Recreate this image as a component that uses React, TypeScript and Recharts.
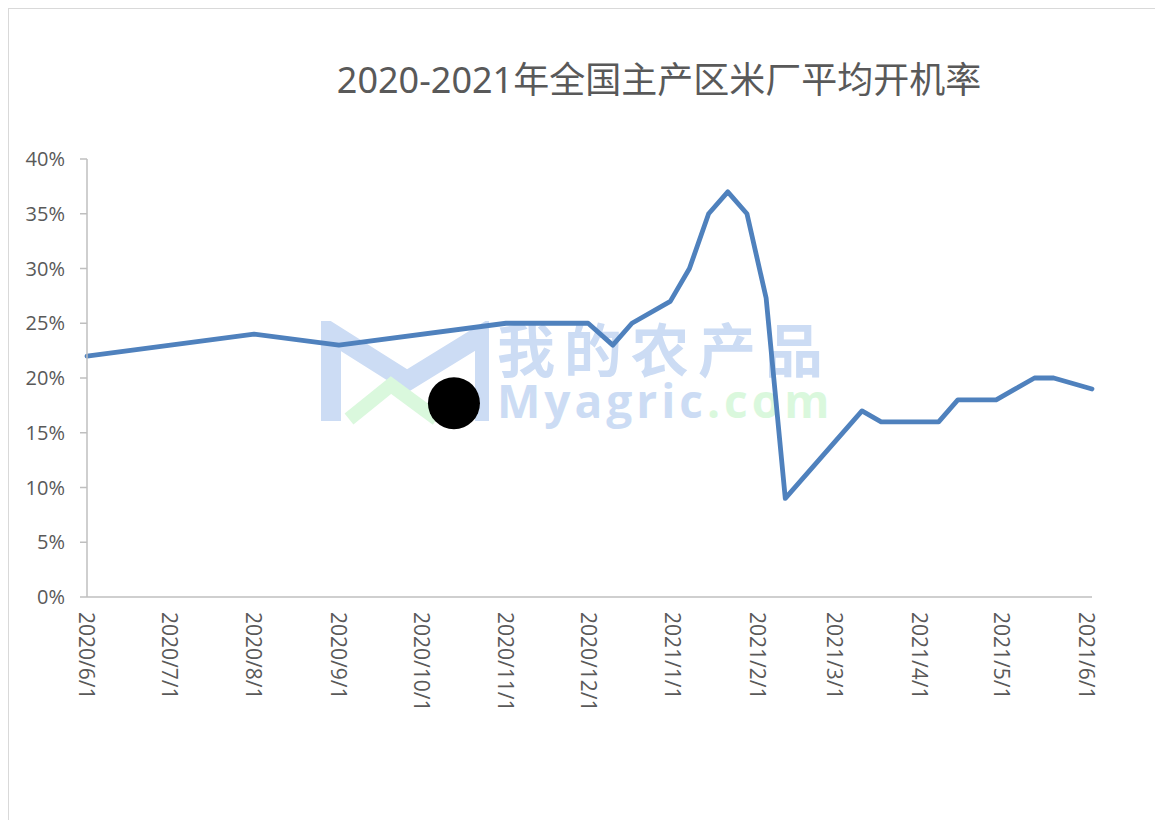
import React from 'react';
import { LineChart, Line, XAxis, YAxis, ReferenceDot } from 'recharts';

// weekly sample dates and mill operating rate (%)
const dates = [
  '2020/6/1', '2020/8/1', '2020/9/1', '2020/11/1', '2020/12/1', '2020/12/10', '2020/12/17',
  '2020/12/31', '2021/1/7', '2021/1/14', '2021/1/21', '2021/1/28', '2021/2/4', '2021/2/11',
  '2021/2/25', '2021/3/11', '2021/3/18', '2021/4/8', '2021/4/15', '2021/4/29', '2021/5/6',
  '2021/5/13', '2021/5/20', '2021/5/27', '2021/6/3',
];
const rates = [22, 24, 23, 25, 25, 23, 25, 27, 30, 35, 37, 35, 27.3, 9, 13, 17, 16, 16, 18, 18, 19, 20, 20, 19.5, 19];

const tickDates = [
  '2020/6/1', '2020/7/1', '2020/8/1', '2020/9/1', '2020/10/1', '2020/11/1', '2020/12/1',
  '2021/1/1', '2021/2/1', '2021/3/1', '2021/4/1', '2021/5/1', '2021/6/1',
];
const yTicks = [0, 5, 10, 15, 20, 25, 30, 35, 40];

// stray black marker sitting on the chart
const dotDate = '2020/10/13';
const dotValue = 17.7;

const START = Date.UTC(2020, 5, 1);
const dayOf = (s: string) => {
  const [y, m, d] = s.split('/').map(Number);
  return Math.round((Date.UTC(y, m - 1, d) - START) / 86400000);
};

const data = dates.map((d, i) => ({ day: dayOf(d), rate: rates[i] }));
const tickDays = tickDates.map(dayOf);
const labelOf: Record<number, string> = {};
tickDates.forEach((d) => { labelOf[dayOf(d)] = d; });

const axisColor = '#BFBFBF';
const textColor = '#595959';
const tickFont = '"Open Sans", "Noto Sans", sans-serif';
const wmBlue = '#CCDCF4';
const wmGreen = '#DAF8DD';

const XTick = ({ x, y, payload }: any) => (
  <text
    x={x}
    y={y}
    dy="0.36em"
    transform={`rotate(90 ${x} ${y})`}
    textAnchor="start"
    fill={textColor}
    fontSize={21}
    fontFamily={tickFont}
  >
    {labelOf[payload.value]}
  </text>
);

// faint "我的农产品 Myagric.com" watermark
const Watermark = () => (
  <>
    <svg width={170} height={110} style={{ position: 'absolute', left: 310, top: 312 }}>
      <g fill="none" strokeLinejoin="miter">
        <polyline points="12,100 12,12 88,60 166,12 166,100" stroke={wmBlue} strokeWidth={20} />
        <polyline points="30,98 72,64 118,98" stroke={wmGreen} strokeWidth={14} />
      </g>
    </svg>
    <svg width={380} height={190} style={{ position: 'absolute', left: 478, top: 270 }}>
      <text fontWeight={700}>
        <tspan x={10} y={93} fontSize={58} fill={wmBlue} fontFamily='"Noto Sans CJK SC", sans-serif' style={{ letterSpacing: 9 }}>我的农产品</tspan>
        <tspan x={10} y={139} fontSize={46} fill={wmBlue} fontFamily='"Open Sans", sans-serif' style={{ letterSpacing: 4 }}>Myagric</tspan>
        <tspan fontSize={46} fill={wmGreen} fontFamily='"Open Sans", sans-serif' style={{ letterSpacing: 4 }}>.com</tspan>
      </text>
    </svg>
  </>
);

export default function App() {
  return (
    <div style={{ position: 'relative', width: 1152, height: 830, border: '1px solid #D9D9D9', boxSizing: 'border-box', background: '#fff' }}>
      <div style={{ position: 'absolute', left: 320, top: 50, width: 660, textAlign: 'center', fontSize: 36, color: textColor, fontFamily: '"Noto Sans", "Noto Sans CJK SC", sans-serif', lineHeight: '42px', whiteSpace: 'nowrap' }}>
        2020-2021年全国主产区米厂平均开机率
      </div>
      <Watermark />
      <div style={{ position: 'absolute', left: 0, top: 0 }}>
        <LineChart width={1150} height={720} data={data} margin={{ top: 150, right: 67, bottom: 0, left: 18 }}>
          <XAxis
            dataKey="day"
            type="number"
            domain={[0, 367]}
            ticks={tickDays}
            interval={0}
            tick={<XTick />}
            tickLine={false}
            tickSize={0}
            tickMargin={15}
            height={132}
            stroke={axisColor}
            strokeWidth={1.5}
          />
          <YAxis
            type="number"
            domain={[0, 40]}
            ticks={yTicks}
            interval={0}
            width={60}
            tickFormatter={(v: number) => `${v}%`}
            tick={{ fill: textColor, fontSize: 20, fontFamily: tickFont }}
            tickSize={7}
            tickMargin={15}
            stroke={axisColor}
            strokeWidth={1.5}
          />
          <Line
            type="linear"
            dataKey="rate"
            stroke="#4F81BD"
            strokeWidth={4.8}
            strokeLinejoin="round"
            strokeLinecap="round"
            dot={false}
            isAnimationActive={false}
          />
          <ReferenceDot x={dayOf(dotDate)} y={dotValue} r={26} fill="#000" stroke="none" />
        </LineChart>
      </div>
    </div>
  );
}
